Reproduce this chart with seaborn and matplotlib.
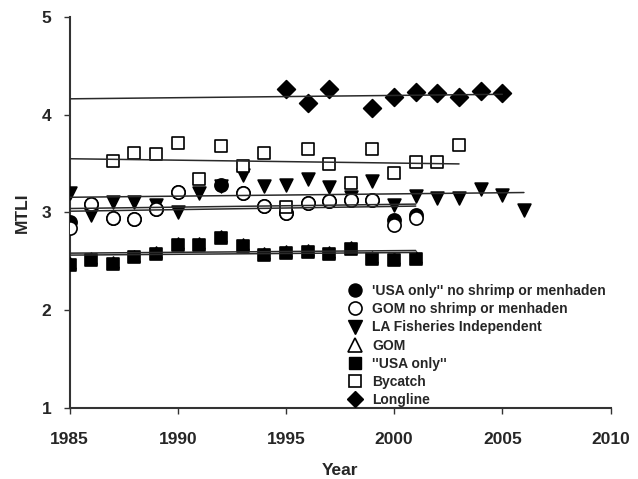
import numpy as np
import pandas as pd
import matplotlib
matplotlib.use("Agg")
import matplotlib.pyplot as plt
from matplotlib.lines import Line2D
import seaborn as sns

# ---- data ----
usa_nsm_years = [1985, 1986, 1987, 1988, 1989, 1990, 1992, 1993, 1994, 1995, 1996, 1997, 1998, 1999, 2000, 2001]
usa_nsm = [2.90, 3.09, 2.94, 2.93, 3.04, 3.21, 3.28, 3.20, 3.07, 2.99, 3.10, 3.12, 3.13, 3.13, 2.92, 2.97]

gom_nsm_years = [1985, 1986, 1987, 1988, 1989, 1990, 1993, 1994, 1995, 1996, 1997, 1998, 1999, 2000, 2001]
gom_nsm = [2.84, 3.09, 2.94, 2.93, 3.04, 3.21, 3.20, 3.07, 2.99, 3.10, 3.12, 3.13, 3.13, 2.87, 2.94]

la_years = list(range(1985, 2007))
la_fi = [3.20, 2.97, 3.11, 3.11, 3.08, 3.01, 3.20, 3.27, 3.38, 3.27, 3.28,
         3.34, 3.26, 3.16, 3.32, 3.08, 3.17, 3.15, 3.15, 3.24, 3.18, 3.03]

gom_years = list(range(1985, 2002))
gom = [2.48, 2.53, 2.49, 2.56, 2.60, 2.69, 2.69, 2.76, 2.68, 2.59, 2.61, 2.62, 2.60, 2.65, 2.54, 2.53, 2.54]

usa_years = list(range(1985, 2002))
usa = [2.46, 2.51, 2.47, 2.54, 2.58, 2.67, 2.67, 2.74, 2.66, 2.57, 2.59, 2.60, 2.58, 2.63, 2.52, 2.51, 2.52]

bycatch_years = list(range(1987, 2004))
bycatch = [3.53, 3.61, 3.60, 3.71, 3.34, 3.68, 3.48, 3.61, 3.06, 3.65, 3.50, 3.30, 3.65, 3.40, 3.52, 3.52, 3.69]

longline_years = [1995, 1996, 1997, 1999, 2000, 2001, 2002, 2003, 2004, 2005]
longline = [4.26, 4.12, 4.26, 4.07, 4.18, 4.23, 4.22, 4.18, 4.24, 4.22]

labels = ["'USA only'' no shrimp or menhaden", "GOM no shrimp or menhaden",
          "LA Fisheries Independent", "GOM", "''USA only''", "Bycatch", "Longline"]
x_ticks = [1985, 1990, 1995, 2000, 2005, 2010]
y_ticks = [1, 2, 3, 4, 5]

sns.set_theme(style="white")
plt.rcParams['font.family'] = ['Liberation Sans', 'DejaVu Sans']
plt.rcParams['font.weight'] = 'bold'

fig = plt.figure(figsize=(6.38, 4.79), dpi=100)
ax = fig.add_axes([69.5 / 638, 71 / 479, 541 / 638, 391 / 479])

# series specs: (years, values, marker, size, face, zorder)
series = [
    (la_years, la_fi, 'v', 85, 'black', 3),
    (usa_nsm_years, usa_nsm, 'o', 90, 'black', 3.2),
    (gom_nsm_years, gom_nsm, 'o', 90, 'white', 3.4),
    (gom_years, gom, '^', 62, 'white', 3.5),
    (usa_years, usa, 's', 68, 'black', 3.6),
    (bycatch_years, bycatch, 's', 68, 'white', 3.8),
    (longline_years, longline, 'D', 82, 'black', 3.9),
]

for yrs, vals, mk, sz, fc, zo in series:
    df = pd.DataFrame({"Year": yrs, "MTLI": vals})
    sns.scatterplot(data=df, x="Year", y="MTLI", marker=mk, s=sz, color=fc,
                    edgecolor='black', linewidth=1.2, ax=ax, zorder=zo, legend=False)

# linear trend lines from 1985 to the last year of each series
for yrs, vals, mk, sz, fc, zo in series:
    coef = np.polyfit(yrs, vals, 1)
    xs = np.array([1985, max(yrs)])
    tdf = pd.DataFrame({"Year": xs, "MTLI": np.polyval(coef, xs)})
    sns.lineplot(data=tdf, x="Year", y="MTLI", color='#2a2a2a', linewidth=1.1,
                 ax=ax, zorder=5, legend=False)

ax.set_xlim(1985, 2010)
ax.set_ylim(1, 5)
ax.set_xticks(x_ticks)
ax.set_yticks(y_ticks)
ax.set_xticklabels([str(t) for t in x_ticks], fontsize=12.5, fontweight='bold')
ax.set_yticklabels([str(t) for t in y_ticks], fontsize=12.5, fontweight='bold')
ax.tick_params(axis='x', direction='out', length=4, width=1, color='#333', pad=13, bottom=True)
ax.tick_params(axis='y', direction='out', length=4, width=1, color='#333', pad=9, left=True)

for side in ['top', 'right']:
    ax.spines[side].set_visible(False)
for side in ['left', 'bottom']:
    ax.spines[side].set_color('#333')
    ax.spines[side].set_linewidth(1.5)

ax.set_xlabel("Year", fontsize=12.5, fontweight='bold')
ax.set_ylabel("MTLI", fontsize=12.5, fontweight='bold')
ax.xaxis.set_label_coords(0.5, -0.14)
ax.yaxis.set_label_coords(-0.073, 0.5)

handles = [
    Line2D([], [], linestyle='none', marker='o', markersize=9.4, markerfacecolor='black', markeredgecolor='black'),
    Line2D([], [], linestyle='none', marker='o', markersize=9.4, markerfacecolor='white', markeredgecolor='black', markeredgewidth=1.2),
    Line2D([], [], linestyle='none', marker='v', markersize=9.4, markerfacecolor='black', markeredgecolor='black'),
    Line2D([], [], linestyle='none', marker='^', markersize=9.4, markerfacecolor='white', markeredgecolor='black', markeredgewidth=1.2),
    Line2D([], [], linestyle='none', marker='s', markersize=8, markerfacecolor='black', markeredgecolor='black'),
    Line2D([], [], linestyle='none', marker='s', markersize=8, markerfacecolor='white', markeredgecolor='black', markeredgewidth=1.2),
    Line2D([], [], linestyle='none', marker='D', markersize=8.5, markerfacecolor='black', markeredgecolor='black'),
]
leg = ax.legend(handles, labels, loc='upper left', bbox_to_anchor=(0.513, 0.317),
                frameon=False, fontsize=10, handlelength=1.15, handletextpad=0.65,
                labelspacing=0.30, borderpad=0, borderaxespad=0)
for t in leg.get_texts():
    t.set_fontweight('bold')
leg.set_zorder(10)

fig.savefig("out.png", dpi=100, facecolor='white')
